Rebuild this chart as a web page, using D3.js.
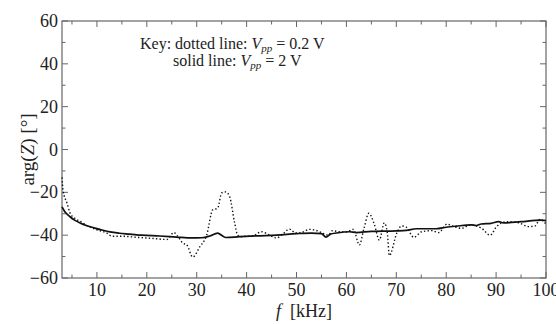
<!DOCTYPE html>
<html>
<head>
<meta charset="utf-8">
<script src="https://cdn.jsdelivr.net/npm/d3@7"></script>
<style>
  body { margin: 0; background: #fff; }
  svg text { font-family: "Liberation Serif", "DejaVu Serif", serif; fill: #222; }
</style>
</head>
<body>
<div id="chart"></div>
<script>
// frequency in kHz, phase in degrees
var solidF = [3, 3.5, 4.6, 5.6, 6.6, 8, 9.6, 11, 12.6, 14.5, 16.6, 19, 22.6, 26, 29, 31, 32.6, 34.2, 35.2, 35.8, 38.6, 42, 46, 50, 53, 55, 55.9, 56.8, 58, 60.6, 62, 65, 70, 72, 74, 78, 80, 82, 85, 86, 87, 89, 90.5, 91.5, 95, 99, 100];
var solidV = [-26.8, -28.8, -31.4, -33.1, -34.3, -35.6, -36.7, -37.6, -38.5, -39.1, -39.5, -40, -40.4, -40.9, -41.3, -41.2, -40.4, -39, -40.4, -41.1, -40.7, -40.3, -40, -39.3, -39, -39.3, -40.9, -39.5, -39, -38.4, -38.8, -38.2, -38, -37.8, -37, -37, -36.3, -35.8, -35.2, -35.5, -34.8, -34.5, -33.7, -34.3, -33.7, -33, -33.2];

var dotF = [3, 3.2, 4, 4.6, 5.5, 6.6, 8, 10, 12, 13, 15, 18, 21, 24, 25.4, 26.5, 27.2, 28, 29.2, 30.6, 32, 33.2, 34.2, 35, 35.8, 36.6, 37.6, 38.2, 39, 40, 41, 43, 44.6, 46, 47, 48.6, 49.8, 51, 52.6, 54.2, 55.6, 56.4, 57.2, 58.6, 60, 61.4, 62.6, 63.5, 64.5, 65.6, 66.6, 67.6, 68.2, 68.6, 70.1, 71, 72, 73.5, 75.1, 77.1, 78.5, 80.2, 81.2, 83.1, 84.8, 87.1, 88.8, 90.1, 92.1, 94.5, 96.5, 97.8, 98.8, 100];
var dotV = [-13, -19, -25, -29.6, -32, -33.5, -35.5, -37.5, -39, -40.5, -40.5, -41, -41.5, -42, -38.8, -41.5, -43.7, -44.5, -50.2, -45.5, -40, -28.2, -27.4, -20.3, -19.8, -22, -34.3, -40, -40.8, -40.5, -40.5, -38.4, -40, -41.3, -40, -37.2, -39, -38.8, -37.3, -38, -39.5, -40, -37.9, -38.4, -38.5, -37.3, -44.6, -37, -29.8, -35, -42.3, -34.3, -39, -49.5, -39, -35.7, -36.3, -41, -38.4, -37.9, -38.8, -34.8, -35.7, -36.8, -35.3, -36.8, -40, -36, -33.7, -34.2, -36, -35.7, -32.6, -34.8];

var xMajor = [10, 20, 30, 40, 50, 60, 70, 80, 90, 100];
var xMinor = [5, 15, 25, 35, 45, 55, 65, 75, 85, 95];
var yMajor = [-60, -40, -20, 0, 20, 40, 60];
var yMinor = [-50, -30, -10, 10, 30, 50];

var w = 556, h = 324;
var mLeft = 62, mRight = 546, mTop = 21, mBottom = 278;

var svg = d3.select("#chart").append("svg")
    .attr("width", w)
    .attr("height", h);

var xScale = d3.scaleLinear().domain([3, 100]).range([mLeft, mRight]);
var yScale = d3.scaleLinear().domain([-60, 60]).range([mBottom, mTop]);

var axisColor = "#666";

// frame
svg.append("rect")
    .attr("x", mLeft).attr("y", mTop)
    .attr("width", mRight - mLeft).attr("height", mBottom - mTop)
    .attr("fill", "none").attr("stroke", axisColor).attr("stroke-width", 1.2);

// ticks, pointing inward on all four sides
var gx = svg.append("g").attr("stroke", axisColor).attr("stroke-width", 1);
xMajor.concat(xMinor).forEach(function (v) {
    var len = xMajor.indexOf(v) >= 0 ? 6 : 3.5;
    gx.append("line").attr("x1", xScale(v)).attr("x2", xScale(v))
        .attr("y1", mBottom).attr("y2", mBottom - len);
    gx.append("line").attr("x1", xScale(v)).attr("x2", xScale(v))
        .attr("y1", mTop).attr("y2", mTop + len);
});

var gy = svg.append("g").attr("stroke", axisColor).attr("stroke-width", 1);
yMajor.concat(yMinor).forEach(function (v) {
    var len = yMajor.indexOf(v) >= 0 ? 6 : 3.5;
    gy.append("line").attr("y1", yScale(v)).attr("y2", yScale(v))
        .attr("x1", mLeft).attr("x2", mLeft + len);
    gy.append("line").attr("y1", yScale(v)).attr("y2", yScale(v))
        .attr("x1", mRight).attr("x2", mRight - len);
});

// tick labels
svg.selectAll(".xl").data(xMajor).enter().append("text")
    .attr("x", function (d) { return xScale(d); })
    .attr("y", 296)
    .attr("text-anchor", "middle")
    .style("font-size", "18px")
    .text(function (d) { return d; });

svg.selectAll(".yl").data(yMajor).enter().append("text")
    .attr("x", mLeft - 4)
    .attr("y", function (d) { return yScale(d) + 6; })
    .attr("text-anchor", "end")
    .style("font-size", "18px")
    .text(function (d) { return d < 0 ? "\u2212" + (-d) : d; });

// lines
var solid = solidF.map(function (f, i) { return [f, solidV[i]]; });
var dotted = dotF.map(function (f, i) { return [f, dotV[i]]; });

var line = d3.line()
    .x(function (d) { return xScale(d[0]); })
    .y(function (d) { return yScale(d[1]); })
    .curve(d3.curveMonotoneX);

svg.append("path").datum(dotted)
    .attr("d", line)
    .attr("fill", "none")
    .attr("stroke", "#111")
    .attr("stroke-width", 1.4)
    .attr("stroke-dasharray", "1.4,2.2");

svg.append("path").datum(solid)
    .attr("d", line)
    .attr("fill", "none")
    .attr("stroke", "#111")
    .attr("stroke-width", 1.7);

// axis titles
var yt = svg.append("text")
    .attr("transform", "translate(34," + yScale(0) + ") rotate(-90)")
    .attr("text-anchor", "middle")
    .style("font-size", "19px");
yt.append("tspan").text("arg(");
yt.append("tspan").style("font-style", "italic").text("Z");
yt.append("tspan").text(") [\u00b0]");

var xt = svg.append("text")
    .attr("x", 304)
    .attr("y", 317)
    .attr("text-anchor", "middle")
    .style("font-size", "18px");
xt.append("tspan").style("font-style", "italic").text("f");
xt.append("tspan").text("\u2002[kHz]");

// key
function keyLine(x, y, pre, val) {
    var t = svg.append("text").attr("x", x).attr("y", y).style("font-size", "16px");
    t.append("tspan").text(pre);
    t.append("tspan").style("font-style", "italic").text("V");
    t.append("tspan").style("font-style", "italic").style("font-size", "11px")
        .attr("dy", 2.5).text("pp");
    t.append("tspan").attr("dy", -2.5).text(" = " + val);
}
keyLine(140, 49, "Key: dotted line: ", "0.2 V");
keyLine(173, 66, "solid line: ", "2 V");
</script>
</body>
</html>
